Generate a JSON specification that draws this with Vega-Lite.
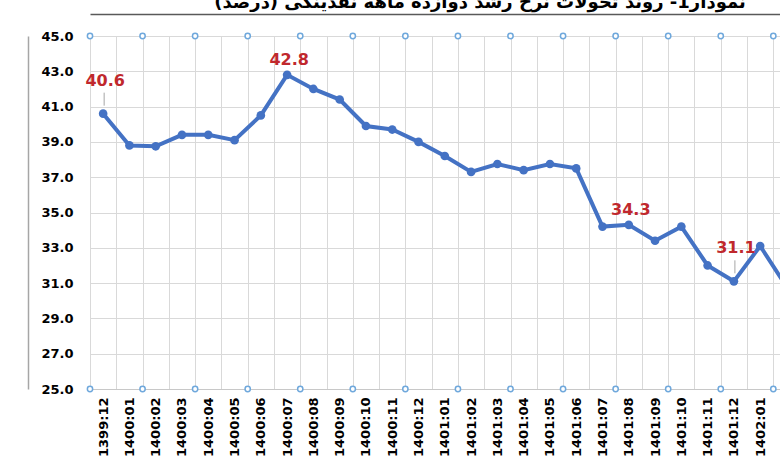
{
  "$schema": "https://vega.github.io/schema/vega-lite/v6.json",
  "width": 690,
  "height": 353,
  "autosize": {"type": "none"},
  "padding": {"left": 90, "top": 36, "right": 0, "bottom": 81},
  "background": "white",
  "title": {
    "text": "نمودار1- روند تحولات نرخ رشد دوازده ماهه نقدینگی (درصد)",
    "font": "DejaVu Sans",
    "fontSize": 18,
    "fontWeight": "bold",
    "color": "black",
    "anchor": "middle",
    "frame": "group",
    "offset": -12,
    "baseline": "alphabetic",
    "dx": 45
  },
  "config": {
    "view": {"stroke": null},
    "axisX": {
      "title": null,
      "labelAngle": -90,
      "labelFont": "DejaVu Sans",
      "labelFontWeight": "bold",
      "labelFontSize": 13,
      "labelColor": "black",
      "ticks": false,
      "tickBand": "extent",
      "grid": true,
      "gridColor": "#d9d9d9",
      "domainColor": "#c8c8c8",
      "labelPadding": 8,
      "labelOverlap": false
    },
    "axisY": {
      "title": null,
      "labelFont": "DejaVu Sans",
      "labelFontWeight": "bold",
      "labelFontSize": 13,
      "labelColor": "black",
      "ticks": false,
      "domain": false,
      "grid": true,
      "gridColor": "#d9d9d9",
      "labelPadding": 17,
      "labelOverlap": false
    }
  },
  "datasets": {
    "rate": [
      {"m": "1399:12", "v": 40.6},
      {"m": "1400:01", "v": 38.8},
      {"m": "1400:02", "v": 38.75},
      {"m": "1400:03", "v": 39.4},
      {"m": "1400:04", "v": 39.4},
      {"m": "1400:05", "v": 39.1},
      {"m": "1400:06", "v": 40.5},
      {"m": "1400:07", "v": 42.8},
      {"m": "1400:08", "v": 42.0},
      {"m": "1400:09", "v": 41.4},
      {"m": "1400:10", "v": 39.9},
      {"m": "1400:11", "v": 39.7},
      {"m": "1400:12", "v": 39.0},
      {"m": "1401:01", "v": 38.2},
      {"m": "1401:02", "v": 37.3},
      {"m": "1401:03", "v": 37.75},
      {"m": "1401:04", "v": 37.4},
      {"m": "1401:05", "v": 37.75},
      {"m": "1401:06", "v": 37.5},
      {"m": "1401:07", "v": 34.2},
      {"m": "1401:08", "v": 34.3},
      {"m": "1401:09", "v": 33.4},
      {"m": "1401:10", "v": 34.2},
      {"m": "1401:11", "v": 32.0},
      {"m": "1401:12", "v": 31.1},
      {"m": "1402:01", "v": 33.1},
      {"m": "1402:02", "v": 30.8}
    ],
    "handles": [
      {"m": "1399:12", "v": 45}, {"m": "1399:12", "v": 25},
      {"m": "1400:02", "v": 45}, {"m": "1400:02", "v": 25},
      {"m": "1400:04", "v": 45}, {"m": "1400:04", "v": 25},
      {"m": "1400:06", "v": 45}, {"m": "1400:06", "v": 25},
      {"m": "1400:08", "v": 45}, {"m": "1400:08", "v": 25},
      {"m": "1400:10", "v": 45}, {"m": "1400:10", "v": 25},
      {"m": "1400:12", "v": 45}, {"m": "1400:12", "v": 25},
      {"m": "1401:02", "v": 45}, {"m": "1401:02", "v": 25},
      {"m": "1401:04", "v": 45}, {"m": "1401:04", "v": 25},
      {"m": "1401:06", "v": 45}, {"m": "1401:06", "v": 25},
      {"m": "1401:08", "v": 45}, {"m": "1401:08", "v": 25},
      {"m": "1401:10", "v": 45}, {"m": "1401:10", "v": 25},
      {"m": "1401:12", "v": 45}, {"m": "1401:12", "v": 25},
      {"m": "1402:02", "v": 45}, {"m": "1402:02", "v": 25}
    ]
  },
  "encoding": {
    "x": {
      "field": "m", "type": "ordinal",
      "scale": {
        "domain": ["1399:12","1400:01","1400:02","1400:03","1400:04","1400:05","1400:06","1400:07","1400:08","1400:09","1400:10","1400:11","1400:12","1401:01","1401:02","1401:03","1401:04","1401:05","1401:06","1401:07","1401:08","1401:09","1401:10","1401:11","1401:12","1402:01","1402:02"],
        "range": [0, 709.6],
        "paddingInner": 0,
        "paddingOuter": 0
      }
    },
    "y": {
      "field": "v", "type": "quantitative",
      "scale": {"domain": [25, 45], "nice": false, "zero": false},
      "axis": {"values": [25, 27, 29, 31, 33, 35, 37, 39, 41, 43, 45], "format": ".1f", "tickCount": 11}
    }
  },
  "resolve": {"axis": {"x": "independent", "y": "independent"}},
  "layer": [
    {
      "layer": [
        {
          "data": {"name": "rate"},
          "mark": {"type": "line", "color": "#4472c4", "strokeWidth": 4, "clip": true}
        },
        {
          "data": {"name": "rate"},
          "mark": {"type": "point", "filled": true, "size": 75, "opacity": 1, "color": "#4472c4", "clip": true}
        },
        {
          "data": {"name": "handles"},
          "mark": {"type": "point", "filled": true, "size": 28, "opacity": 1, "fill": "white", "stroke": "#6fa8dc", "strokeWidth": 1.5},
          "encoding": {
            "x": {"field": "m", "type": "ordinal", "bandPosition": 0}
          }
        },
        {
          "data": {"name": "rate"},
          "transform": [{"filter": "datum.m == '1399:12' || datum.m == '1401:12'"}],
          "mark": {"type": "rule", "color": "#a6a6a6", "strokeWidth": 1, "yOffset": -8, "y2Offset": -21, "xOffset": 1},
          "encoding": {
            "y2": {"field": "v"}
          }
        },
        {
          "data": {"name": "rate"},
          "transform": [{"filter": "datum.m == '1399:12' || datum.m == '1401:12'"}],
          "mark": {"type": "text", "font": "DejaVu Sans", "fontWeight": "bold", "fontSize": 16, "color": "#c0282d", "dy": -33, "dx": 2, "baseline": "middle"},
          "encoding": {
            "text": {"field": "v", "type": "quantitative", "format": ".1f"}
          }
        },
        {
          "data": {"name": "rate"},
          "transform": [{"filter": "datum.m == '1400:07' || datum.m == '1401:08'"}],
          "mark": {"type": "text", "font": "DejaVu Sans", "fontWeight": "bold", "fontSize": 16, "color": "#c0282d", "dy": -15, "dx": 2, "baseline": "middle"},
          "encoding": {
            "text": {"field": "v", "type": "quantitative", "format": ".1f"}
          }
        }
      ]
    },
    {
      "data": {"name": "rate"},
      "mark": {"type": "point", "opacity": 0},
      "encoding": {
        "x": {"field": "m", "type": "ordinal", "axis": {"orient": "top", "offset": 22, "labels": false, "ticks": false, "grid": false, "domain": true, "domainColor": "#595959", "domainWidth": 1.5}},
        "y": {"field": "v", "type": "quantitative", "axis": {"orient": "left", "offset": 62, "labels": false, "ticks": false, "grid": false, "domain": true, "domainColor": "#a6a6a6", "domainWidth": 1.5}}
      }
    }
  ]
}
